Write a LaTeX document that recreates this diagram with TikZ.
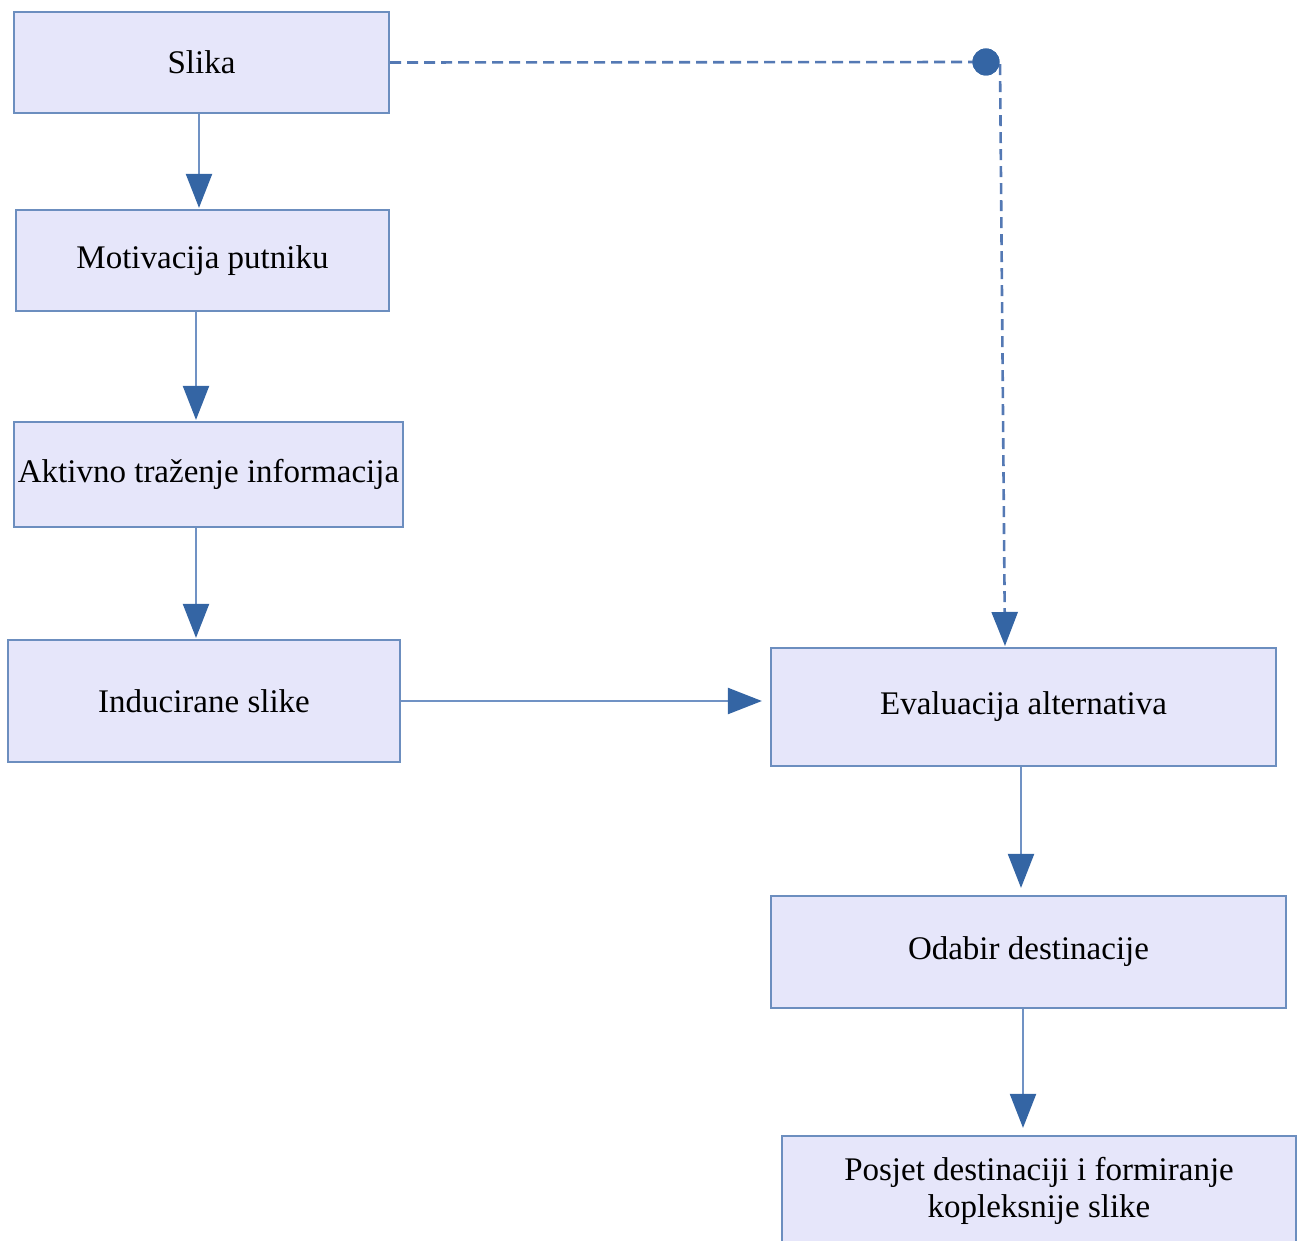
\documentclass[tikz,border=0pt]{standalone}
\usepackage{fontspec}
\setmainfont{Liberation Serif}
\usetikzlibrary{arrows.meta}
\definecolor{boxfill}{RGB}{230,230,250}
\definecolor{boxline}{RGB}{108,142,191}
\definecolor{connline}{RGB}{112,146,196}
\definecolor{tipcol}{RGB}{52,101,164}
\definecolor{dashcol}{RGB}{84,121,180}
\tikzset{
  box/.style={draw=boxline, fill=boxfill, line width=2.2pt, rectangle, inner sep=0pt,
    align=center, font=\fontsize{33}{37}\selectfont},
  conn/.style={draw=connline, line width=2.2pt,
    -{Triangle[width=26pt,length=34pt,color=tipcol]}},
  dconn/.style={draw=dashcol, line width=2.6pt, dash pattern=on 11pt off 6pt,
    -{Triangle[width=26pt,length=34pt,color=tipcol]}},
  dotnode/.style={circle, fill=tipcol, minimum size=27pt, inner sep=0pt}
}
\begin{document}
\begin{tikzpicture}[x=1pt,y=-1pt]
\useasboundingbox (0,0) rectangle (1298,1241);
\node[box, minimum width=375pt, minimum height=101pt] (slika) at (201.5,62.5) {Slika};
\node[box, minimum width=373pt, minimum height=101pt] (motiv) at (202.5,260.5) {Motivacija putniku};
\node[box, minimum width=389pt, minimum height=105pt] (aktiv) at (208.5,474.5) {Aktivno traženje informacija};
\node[box, minimum width=392pt, minimum height=122pt] (induc) at (204,701) {Inducirane slike};
\node[box, minimum width=505pt, minimum height=118pt] (eval) at (1023.5,707) {Evaluacija alternativa};
\node[box, minimum width=515pt, minimum height=112pt] (odabir) at (1028.5,952) {Odabir destinacije};
\node[box, minimum width=514pt, minimum height=110pt] (posjet) at (1039,1191) {Posjet destinaciji i formiranje\\kopleksnije slike};

\draw[conn, shorten >=1pt] ([xshift=-2.5pt]slika.south) -- ([xshift=-3.5pt]motiv.north);
\draw[conn, shorten >=1pt] ([xshift=-6.5pt]motiv.south) -- ([xshift=-12.5pt]aktiv.north);
\draw[conn, shorten >=1pt] ([xshift=-12.5pt]aktiv.south) -- ([xshift=-8pt]induc.north);
\draw[conn, shorten >=8pt] (induc.east) -- (induc.east -| eval.west);
\draw[conn, shorten >=7pt] ([xshift=-2.5pt]eval.south) -- ([xshift=-7.5pt]odabir.north);
\draw[conn, shorten >=7pt] ([xshift=-5.5pt]odabir.south) -- ([xshift=-16pt]posjet.north);

\coordinate (bend) at (1000,62);
\coordinate (evtop) at (1005,648);
\node[dotnode] (dot) at (986,62) {};
\draw[dconn, shorten >=2pt] (slika.east) -- (dot.center) -- (bend) -- (evtop);
\node[dotnode] at (dot) {};
\end{tikzpicture}
\end{document}
